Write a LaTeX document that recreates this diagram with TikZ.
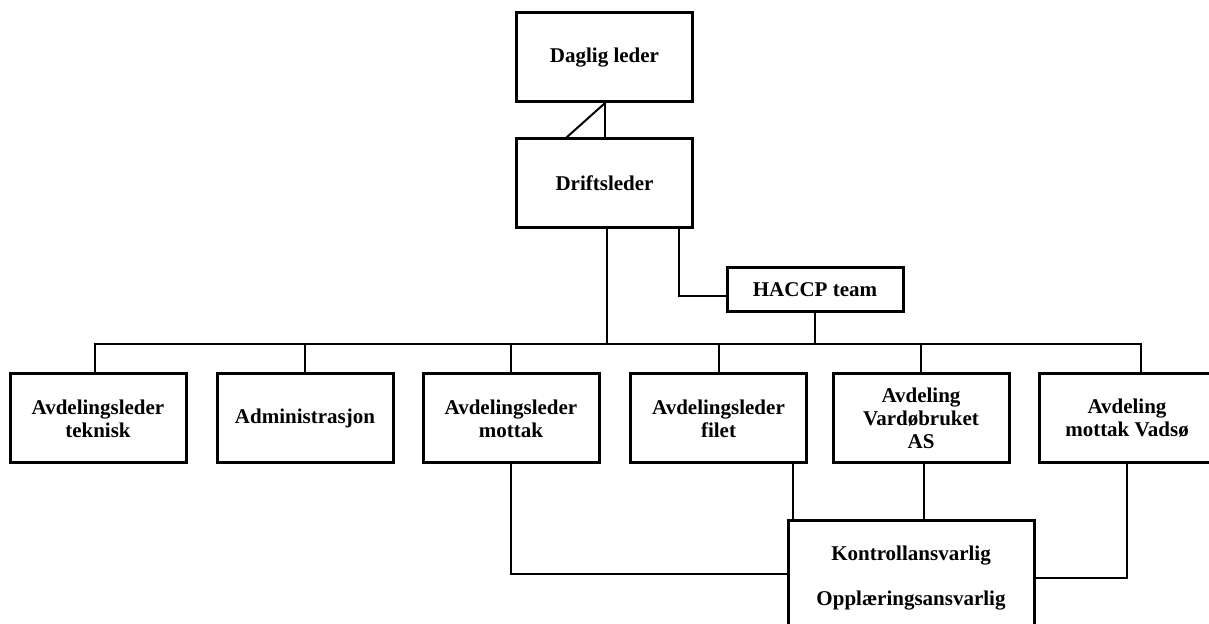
\documentclass[tikz,border=0pt]{standalone}
\usepackage{fontspec}
\setmainfont{Liberation Serif}
\usepackage{tikz}

\begin{document}
\begin{tikzpicture}[x=0.5pt,y=-0.5pt,
  box/.style={draw,line width=1.5pt,minimum width=88pt,minimum height=44.5pt,inner sep=0pt,align=center,font=\fontsize{10.5}{11.5}\selectfont\bfseries},
  link/.style={line width=1pt}]
\useasboundingbox (0,0) rectangle (1209,624);
\clip (0,0) rectangle (1209,624);
\node[box] (daglig) at (604.5,57.5) {Daglig leder};
\node[box] (drift) at (604.5,183.5) {Driftsleder};
\node[box,minimum height=22pt] (haccp) at (815,290) {HACCP team};
\foreach \x/\n/\t in {98/tek/{Avdelingsleder\\teknisk},305/adm/{Administrasjon},511/mot/{Avdelingsleder\\mottak},718.5/fil/{Avdelingsleder\\filet},921/var/{Avdeling\\Vardøbruket\\AS},1127/vad/{Avdeling\\mottak Vadsø}}
  \node[box] (\n) at (\x,418.5) {\t};
\node[box,minimum width=123pt,minimum height=58pt] (kon) at (911,578) {Kontrollansvarlig\\[11pt]Opplæringsansvarlig};
\coordinate (bus) at (0,344);
\draw[link] (daglig.south) -- (drift.north);
\draw[link] (daglig.south) -- ([xshift=-19pt]drift.north);
\draw[link] ([xshift=1.25pt]drift.south) -- ([xshift=1.25pt]drift.south |- bus);
\draw[link] ([xshift=37pt]drift.south) |- ([yshift=-3pt]haccp.west);
\draw[link] (haccp.south) -- (haccp.south |- bus);
\draw[link] ([xshift=-1.5pt]tek.north) |- ([xshift=7pt]vad.north |- bus) -- ([xshift=7pt]vad.north);
\foreach \n in {adm,mot,fil,var} \draw[link] (\n.north) -- (\n.north |- bus);
\draw[link] (mot.south) |- ([yshift=2pt]kon.west);
\draw[link] ([xshift=37pt]fil.south) -- ([xshift=37pt]fil.south |- kon.north);
\draw[link] ([xshift=1.5pt]var.south) -- ([xshift=1.5pt]var.south |- kon.north);
\draw[link] (vad.south) |- (kon.east);
\end{tikzpicture}
\end{document}
